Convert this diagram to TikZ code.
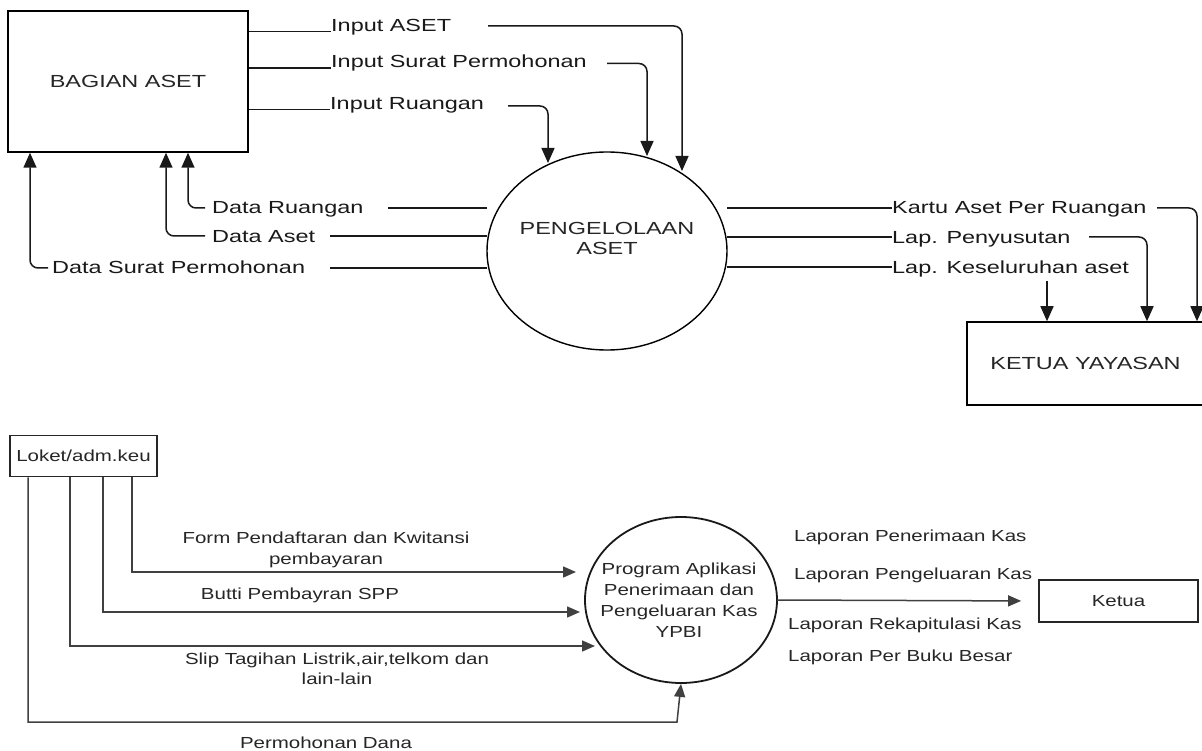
\documentclass[tikz,border=0pt]{standalone}
\usepackage{fontspec}
\setmainfont{Liberation Sans}[FakeStretch=1.34]
\newfontfamily\BotFam{Liberation Sans}[FakeStretch=1.28]
\usetikzlibrary{arrows.meta,shapes.geometric}
\newcommand\TopFont{\fontsize{17.5}{20}\selectfont}
\newcommand\BotFont{\BotFam\fontsize{16}{20.5}\selectfont}
\begin{document}
\begin{tikzpicture}[x=1pt,y=-1pt,
  tbox/.style={draw=black, line width=1.5pt, inner sep=0pt, font=\TopFont, text=black!85},
  tlbl/.style={inner sep=0pt, font=\TopFont, text=black!90, anchor=base west},
  tflow/.style={line width=1.5pt, draw=black!90},
  tarr/.style={tflow, -{Triangle[length=15pt,width=13pt]}, rounded corners=8pt},
  bbox/.style={draw=black!85, line width=1.8pt, inner sep=0pt, font=\BotFont, text=black!85},
  blbl/.style={inner sep=0pt, font=\BotFont, text=black!85, align=center},
  bflow/.style={line width=1.5pt, draw=black!75},
  barr/.style={bflow, -{Triangle[length=13pt,width=11pt]}}]
\useasboundingbox (0,0) rectangle (1202,751);
\fill[white] (0,0) rectangle (1202,751);

% ---------- top diagram ----------
\node[tbox, minimum width=240pt, minimum height=141pt] (ba) at (128,81.5) {BAGIAN ASET};
\node[draw=black, line width=1.4pt, ellipse, minimum width=240pt, minimum height=198pt, inner sep=0pt] (pa) at (607,251) {};
\node[inner sep=0pt, font=\TopFont, text=black!85, align=center] (pat) at (607,238) {PENGELOLAAN\\ASET};
\node[tbox, minimum width=237pt, minimum height=83pt] (ky) at (1085.5,363.5) {KETUA YAYASAN};

% inputs
\node[tlbl] (tia) at (331,31.5) {Input ASET};
\node[tlbl] (tis) at (331,68) {Input Surat Permohonan};
\node[tlbl] (tir) at (330,109.5) {Input Ruangan};
\draw[tflow] (ba.east |- tia.base) -- (tia.base west);
\draw[tflow] (ba.east |- tis.base) -- (tis.base west);
\draw[tflow] (ba.east |- tir.base) -- (tir.base west);
\coordinate (ia0) at (488,26);  \coordinate (ia1) at (682,171);
\coordinate (is0) at (607,63.5); \coordinate (is1) at (647,156);
\coordinate (ir0) at (508,106); \coordinate (ir1) at (548,163);
\draw[tarr] (ia0) -| (ia1);
\draw[tarr] (is0) -| (is1);
\draw[tarr] (ir0) -| (ir1);

% data back to Bagian Aset
\node[tlbl] (tdr) at (212,214) {Data Ruangan};
\node[tlbl] (tda) at (212,242.5) {Data Aset};
\node[tlbl] (tds) at (52,273.5) {Data Surat Permohonan};
\coordinate (dr0) at (388,208); \coordinate (dr1) at (487,208);
\coordinate (da0) at (330,236); \coordinate (da1) at (487,236);
\coordinate (ds0) at (330,268); \coordinate (ds1) at (487,268);
\draw[tflow] (dr1) -- (dr0);
\draw[tflow] (da1) -- (da0);
\draw[tflow] (ds1) -- (ds0);
\coordinate (drA) at (205,208); \coordinate (drB) at (188,0);
\coordinate (daA) at (205,236); \coordinate (daB) at (166,0);
\coordinate (dsA) at (48,268);  \coordinate (dsB) at (30,0);
\draw[tarr] (drA) -| (drB |- ba.south);
\draw[tarr] (daA) -| (daB |- ba.south);
\draw[tarr] (dsA) -| (dsB |- ba.south);

% outputs to Ketua Yayasan
\node[tlbl] (tka) at (892,214) {Kartu Aset Per Ruangan};
\node[tlbl] (tlp) at (892,243.5) {Lap. Penyusutan};
\node[tlbl] (tlk) at (892,273.5) {Lap. Keseluruhan aset};
\coordinate (ka0) at (727,208); \coordinate (lp0) at (727,237); \coordinate (lk0) at (727,267);
\draw[tflow] (ka0) -- (tka.west |- ka0);
\draw[tflow] (lp0) -- (tlp.west |- lp0);
\draw[tflow] (lk0) -- (tlk.west |- lk0);
\coordinate (kaA) at (1157,208); \coordinate (kaB) at (1197,0);
\coordinate (lpA) at (1089,237); \coordinate (lpB) at (1147,0);
\coordinate (lkA) at (1047,281);
\draw[tarr] (kaA) -| (kaB |- ky.north);
\draw[tarr] (lpA) -| (lpB |- ky.north);
\draw[tarr] (lkA) -- (lkA |- ky.north);

% ---------- bottom diagram ----------
\node[bbox, minimum width=147pt, minimum height=41pt] (lo) at (83.5,456) {Loket/adm.keu};
\node[draw=black!90, line width=1.8pt, ellipse, minimum width=192pt, minimum height=166pt, inner sep=0pt] (pg) at (681,600) {};
\node[blbl, font=\BotFam\fontsize{16}{21}\selectfont] (pgt) at (679,600) {Program Aplikasi\\Penerimaan dan\\Pengeluaran Kas\\YPBI};
\node[bbox, minimum width=159pt, minimum height=42pt] (kt) at (1118.5,601) {Ketua};

\coordinate (f0) at (132,0); \coordinate (f1) at (576,572);
\coordinate (b0) at (103,0); \coordinate (b1) at (580,612);
\coordinate (s0) at (70,0);  \coordinate (s1) at (595,646);
\coordinate (p0) at (28,0);  \coordinate (p1) at (677,722);
\draw[barr] (f0 |- lo.south) |- (f1);
\draw[barr] (b0 |- lo.south) |- (b1);
\draw[barr] (s0 |- lo.south) |- (s1);
\draw[barr] (p0 |- lo.south) |- (p1) -- (pg.south);

\node[blbl] (tf) at (326,550) {Form Pendaftaran dan Kwitansi\\pembayaran};
\node[blbl] (tb) at (300,595) {Butti Pembayran SPP};
\node[blbl] (ts) at (337,669) {Slip Tagihan Listrik,air,telkom dan\\lain-lain};
\node[blbl] (tp) at (326,743) {Permohonan Dana};

\coordinate (o0) at (777,600);
\draw[barr, shorten >=17pt] (o0) -- (kt.west);
\node[blbl, anchor=west] (l1) at (794,537) {Laporan Penerimaan Kas};
\node[blbl, anchor=west] (l2) at (794,575) {Laporan Pengeluaran Kas};
\node[blbl, anchor=west] (l3) at (788,625) {Laporan Rekapitulasi Kas};
\node[blbl, anchor=west] (l4) at (788,657) {Laporan Per Buku Besar};
\end{tikzpicture}
\end{document}
